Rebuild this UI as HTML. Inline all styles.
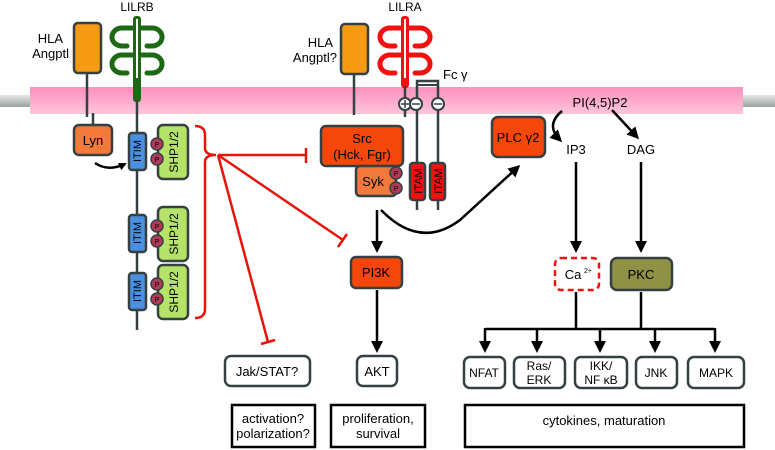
<!DOCTYPE html>
<html><head><meta charset="utf-8"><style>
html,body{margin:0;padding:0;background:#fff;}
svg{display:block;font-family:"Liberation Sans",sans-serif;}
</style></head><body>
<svg width="775" height="450" viewBox="0 0 775 450" xmlns="http://www.w3.org/2000/svg">
<defs>
<linearGradient id="pk" x1="0" y1="0" x2="0" y2="1"><stop offset="0" stop-color="#fd8fbd"/><stop offset="1" stop-color="#fdc6dc"/></linearGradient>
<linearGradient id="gr" x1="0" y1="0" x2="0" y2="1"><stop offset="0" stop-color="#e6e8e6"/><stop offset="1" stop-color="#9aa29e"/></linearGradient>
<marker id="ah" markerWidth="8" markerHeight="8" refX="6" refY="4" orient="auto" markerUnits="userSpaceOnUse"><path d="M0,0 L8,4 L0,8 Z" fill="#000"/></marker>
<marker id="ah2" markerWidth="12" markerHeight="12" refX="9" refY="6" orient="auto" markerUnits="userSpaceOnUse"><path d="M0,0 L12,6 L0,12 Z" fill="#000"/></marker>
<g id="rec">
<path d="M0,28 H-16 A10,9 0 1 0 -14,46 L-10,46 M0,28 H16 A10,9 0 1 1 14,46 L10,46 M0,55 H-16 A10,9 0 1 0 -14,73 L-10,73 M0,55 H16 A10,9 0 1 1 14,73 L10,73" fill="none" stroke-width="5" stroke-linecap="round"/>
</g>
</defs>
<rect x="0" y="95" width="775" height="12" fill="url(#gr)"/>
<rect x="30" y="87" width="713" height="27" fill="url(#pk)"/>

<!-- LILRB side -->
<text x="63" y="43" font-size="13" text-anchor="end">HLA</text>
<text x="69" y="58" font-size="13" text-anchor="end">Angptl</text>
<rect x="74" y="23" width="27" height="50" rx="4" fill="#f59a12" stroke="#354042" stroke-width="2.5"/>
<line x1="87" y1="73" x2="87" y2="117" stroke="#354042" stroke-width="2.5"/>
<line x1="93" y1="113" x2="93" y2="126" stroke="#354042" stroke-width="2.5"/>
<text x="137" y="11" font-size="12" text-anchor="middle">LILRB</text>
<use href="#rec" x="137" y="0" stroke="#1e6a14"/>
<rect x="133" y="16" width="8" height="86" rx="3" fill="#1e6a14"/>
<line x1="137" y1="19" x2="137" y2="78" stroke="#fff" stroke-width="2"/>
<line x1="137" y1="100" x2="137" y2="330" stroke="#354042" stroke-width="2.5"/>
<rect x="74" y="125" width="38" height="30" rx="5" fill="#f27a3c" stroke="#354042" stroke-width="2.5"/>
<text x="93" y="145" font-size="13" text-anchor="middle">Lyn</text>
<path d="M95,163 Q108,172 125,164" stroke="#000" stroke-width="2.5" fill="none" marker-end="url(#ah)"/>
<g id="itimgrp">
<rect x="129" y="133" width="17" height="37" rx="3" fill="#4a90e2" stroke="#354042" stroke-width="2.5"/>
<text transform="translate(141,151) rotate(-90)" font-size="11" text-anchor="middle">ITIM</text>
<rect x="158" y="125" width="30" height="54" rx="5" fill="#b5e36a" stroke="#354042" stroke-width="2.5"/>
<text transform="translate(178,152) rotate(-90)" font-size="12" text-anchor="middle">SHP1/2</text>
<circle cx="157" cy="144" r="6" fill="#b03a57" stroke="#354042" stroke-width="1.5"/>
<circle cx="157" cy="159" r="6" fill="#b03a57" stroke="#354042" stroke-width="1.5"/>
<text x="157" y="147" font-size="7" text-anchor="middle">P</text>
<text x="157" y="162" font-size="7" text-anchor="middle">P</text>
</g>
<use href="#itimgrp" y="82"/>
<use href="#itimgrp" y="140"/>
<path d="M195,126 Q205,126 205,135 L205,148 Q205,155 216,155 Q205,155 205,162 L205,309 Q205,318 195,318" stroke="#e8140a" stroke-width="2.5" fill="none"/>
<g stroke="#e8140a" stroke-width="2.5">
<line x1="218" y1="155" x2="306" y2="155"/><line x1="306" y1="148" x2="306" y2="163"/>
<line x1="218" y1="155" x2="343" y2="240"/><line x1="338" y1="247" x2="347" y2="234"/>
<line x1="218" y1="155" x2="268" y2="342"/><line x1="261" y1="344" x2="275" y2="340"/>
</g>

<!-- LILRA side -->
<text x="333" y="47" font-size="13" text-anchor="end">HLA</text>
<text x="337" y="62" font-size="13" text-anchor="end">Angptl?</text>
<rect x="341" y="24" width="27" height="50" rx="4" fill="#f59a12" stroke="#354042" stroke-width="2.5"/>
<line x1="354" y1="74" x2="354" y2="115" stroke="#354042" stroke-width="2.5"/>
<text x="405" y="11" font-size="12" text-anchor="middle">LILRA</text>
<use href="#rec" x="405" y="0" stroke="#f51010"/>
<rect x="401" y="16" width="8" height="72" rx="3" fill="#f51010"/>
<line x1="405" y1="19" x2="405" y2="78" stroke="#fff" stroke-width="2"/>
<line x1="405" y1="86" x2="405" y2="117" stroke="#354042" stroke-width="2.5"/>
<text x="443" y="79" font-size="13">Fc γ</text>
<path d="M417,210 L417,81 L438,81 L438,210" stroke="#354042" stroke-width="2.5" fill="none"/>
<line x1="417" y1="85" x2="438" y2="85" stroke="#354042" stroke-width="2"/>
<g stroke="#354042" stroke-width="2" fill="#fff">
<circle cx="405" cy="104" r="6"/><circle cx="416" cy="104" r="6"/><circle cx="438" cy="104" r="6"/>
</g>
<g stroke="#354042" stroke-width="1.5">
<line x1="401" y1="104" x2="409" y2="104"/><line x1="405" y1="100" x2="405" y2="108"/>
<line x1="412" y1="104" x2="420" y2="104"/><line x1="434" y1="104" x2="442" y2="104"/>
</g>
<rect x="321" y="126" width="82" height="40" rx="5" fill="#f5470a" stroke="#354042" stroke-width="2.5"/>
<text x="362" y="143" font-size="13" text-anchor="middle">Src</text>
<text x="362" y="159" font-size="13" text-anchor="middle">(Hck, Fgr)</text>
<rect x="356" y="166" width="40" height="30" rx="4" fill="#f27a3c" stroke="#354042" stroke-width="2.5"/>
<text x="373" y="186" font-size="13" text-anchor="middle">Syk</text>
<circle cx="396" cy="173" r="6" fill="#b03a57" stroke="#354042" stroke-width="1.5"/>
<circle cx="396" cy="188" r="6" fill="#b03a57" stroke="#354042" stroke-width="1.5"/>
<text x="396" y="176" font-size="7" text-anchor="middle">P</text>
<text x="396" y="191" font-size="7" text-anchor="middle">P</text>
<rect x="410" y="163" width="15" height="37" rx="3" fill="#f51010" stroke="#354042" stroke-width="2.5"/>
<rect x="430" y="163" width="15" height="37" rx="3" fill="#f51010" stroke="#354042" stroke-width="2.5"/>
<text transform="translate(422,181) rotate(-90)" font-size="11" text-anchor="middle">ITAM</text>
<text transform="translate(442,181) rotate(-90)" font-size="11" text-anchor="middle">ITAM</text>
<line x1="377" y1="210" x2="377" y2="250" stroke="#000" stroke-width="2.5" marker-end="url(#ah2)"/>
<path d="M381,210 Q420,250 460,220 L518,167" stroke="#000" stroke-width="2.5" fill="none" marker-end="url(#ah2)"/>
<rect x="351" y="257" width="51" height="31" rx="5" fill="#f5470a" stroke="#354042" stroke-width="2.5"/>
<text x="376" y="277" font-size="13" text-anchor="middle">PI3K</text>
<line x1="377" y1="290" x2="377" y2="350" stroke="#000" stroke-width="2.5" marker-end="url(#ah2)"/>
<rect x="357" y="356" width="40" height="30" rx="6" fill="#fff" stroke="#354042" stroke-width="2.5"/>
<text x="377" y="376" font-size="13" text-anchor="middle">AKT</text>
<rect x="225" y="356" width="85" height="30" rx="6" fill="#fff" stroke="#354042" stroke-width="2.5"/>
<text x="267" y="376" font-size="13" text-anchor="middle">Jak/STAT?</text>

<!-- right side -->
<rect x="492" y="117" width="53" height="40" rx="6" fill="#f5470a" stroke="#354042" stroke-width="2.5"/>
<text x="518" y="142" font-size="13" text-anchor="middle">PLC γ2</text>
<text x="600" y="107" font-size="13" text-anchor="middle">PI(4,5)P2</text>
<text x="576" y="154" font-size="13" text-anchor="middle">IP3</text>
<text x="641" y="154" font-size="13" text-anchor="middle">DAG</text>
<path d="M562,111 Q545,125 560,140" stroke="#000" stroke-width="2.5" fill="none" marker-end="url(#ah2)"/>
<line x1="612" y1="110" x2="637" y2="137" stroke="#000" stroke-width="2.5" marker-end="url(#ah2)"/>
<line x1="576" y1="162" x2="576" y2="250" stroke="#000" stroke-width="2.5" marker-end="url(#ah2)"/>
<line x1="641" y1="162" x2="641" y2="250" stroke="#000" stroke-width="2.5" marker-end="url(#ah2)"/>
<rect x="555" y="258" width="44" height="32" rx="6" fill="#fff" stroke="#f51010" stroke-width="2.5" stroke-dasharray="6,4"/>
<text x="573" y="279" font-size="13" text-anchor="middle">Ca</text>
<text x="588" y="273" font-size="7" text-anchor="middle">2+</text>
<rect x="611" y="258" width="61" height="32" rx="6" fill="#8f9145" stroke="#354042" stroke-width="2.5"/>
<text x="641" y="279" font-size="13" text-anchor="middle">PKC</text>
<g stroke="#000" stroke-width="2.5" fill="none">
<line x1="576" y1="292" x2="576" y2="329"/><line x1="641" y1="292" x2="641" y2="329"/>
<line x1="485" y1="329" x2="715" y2="329"/>
<line x1="485" y1="328" x2="485" y2="350" marker-end="url(#ah2)"/>
<line x1="537" y1="328" x2="537" y2="350" marker-end="url(#ah2)"/>
<line x1="600" y1="328" x2="600" y2="350" marker-end="url(#ah2)"/>
<line x1="655" y1="328" x2="655" y2="350" marker-end="url(#ah2)"/>
<line x1="715" y1="328" x2="715" y2="350" marker-end="url(#ah2)"/>
</g>
<g fill="#fff" stroke="#354042" stroke-width="2.5">
<rect x="464" y="357" width="41" height="31" rx="6"/>
<rect x="514" y="357" width="51" height="31" rx="6"/>
<rect x="575" y="357" width="52" height="31" rx="6"/>
<rect x="636" y="357" width="41" height="31" rx="6"/>
<rect x="688" y="357" width="56" height="31" rx="6"/>
</g>
<g font-size="12" text-anchor="middle">
<text x="484" y="377">NFAT</text>
<text x="539" y="370">Ras/</text><text x="539" y="384">ERK</text>
<text x="601" y="370">IKK/</text><text x="601" y="384">NF κB</text>
<text x="656" y="377">JNK</text>
<text x="716" y="377">MAPK</text>
</g>
<g fill="#fff" stroke="#000" stroke-width="2.5">
<rect x="232" y="405" width="83" height="42"/>
<rect x="331" y="405" width="94" height="42"/>
<rect x="465" y="405" width="279" height="42"/>
</g>
<g font-size="13" text-anchor="middle">
<text x="273" y="423">activation?</text><text x="273" y="438">polarization?</text>
<text x="378" y="423">proliferation,</text><text x="378" y="438">survival</text>
<text x="604" y="425">cytokines, maturation</text>
</g>
</svg>
</body></html>
